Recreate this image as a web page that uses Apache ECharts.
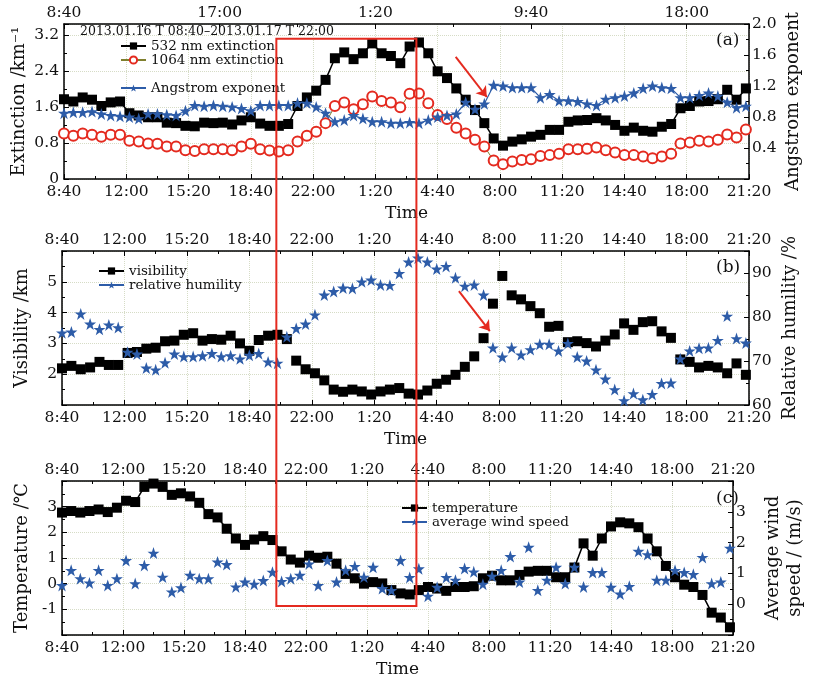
<!DOCTYPE html>
<html>
<head>
<meta charset="utf-8">
<script src="https://cdn.jsdelivr.net/npm/echarts@6.0.0/dist/echarts.min.js"></script>
<style>
html, body { margin: 0; padding: 0; background: #fff; }
#main { width: 814px; height: 681px; }
</style>
</head>
<body>
<div id="main"></div>
<script>
// minutes after 2013.01.16 08:40, one reading every half hour
var times = [0, 30, 60, 90, 120, 150, 180, 210, 240, 270, 300, 330, 360, 390, 420, 450, 480, 510, 540, 570,
    600, 630, 660, 690, 720, 750, 780, 810, 840, 870, 900, 930, 960, 990, 1020, 1050, 1080, 1110, 1140, 1170,
    1200, 1230, 1260, 1290, 1320, 1350, 1380, 1410, 1440, 1470, 1500, 1530, 1560, 1590, 1620, 1650, 1680, 1710, 1740, 1770,
    1800, 1830, 1860, 1890, 1920, 1950, 1980, 2010, 2040, 2070, 2100, 2130, 2160, 2190];

// (a) extinction km^-1 and Angstrom exponent
var ext532 = [1.77, 1.72, 1.81, 1.76, 1.62, 1.70, 1.72, 1.46, 1.41, 1.37, 1.37, 1.25, 1.24, 1.18, 1.17, 1.25, 1.24, 1.25, 1.21, 1.30,
    1.37, 1.23, 1.18, 1.18, 1.22, 1.62, 1.81, 1.96, 2.20, 2.68, 2.81, 2.66, 2.79, 3.01, 2.79, 2.73, 2.57, 2.94, 3.03, 2.79,
    2.39, 2.24, 2.01, 1.76, 1.53, 1.24, 0.90, 0.74, 0.83, 0.88, 0.94, 0.98, 1.09, 1.09, 1.27, 1.30, 1.31, 1.35, 1.30, 1.20,
    1.07, 1.14, 1.07, 1.05, 1.16, 1.22, 1.57, 1.62, 1.72, 1.73, 1.77, 1.98, 1.76, 2.01];
var ext1064 = [1.01, 0.96, 1.01, 0.98, 0.94, 0.98, 0.98, 0.85, 0.83, 0.79, 0.78, 0.72, 0.72, 0.64, 0.62, 0.66, 0.66, 0.66, 0.64, 0.72,
    0.78, 0.66, 0.63, 0.61, 0.64, 0.83, 0.96, 1.05, 1.24, 1.62, 1.70, 1.55, 1.66, 1.83, 1.73, 1.70, 1.59, 1.89, 1.90, 1.68,
    1.42, 1.33, 1.14, 1.01, 0.87, 0.72, 0.41, 0.33, 0.39, 0.42, 0.44, 0.51, 0.53, 0.56, 0.66, 0.66, 0.67, 0.70, 0.64, 0.59,
    0.53, 0.53, 0.50, 0.46, 0.50, 0.56, 0.79, 0.81, 0.85, 0.83, 0.87, 0.99, 0.92, 1.10];
var angstrom = [0.85, 0.86, 0.86, 0.87, 0.84, 0.82, 0.81, 0.80, 0.78, 0.84, 0.84, 0.83, 0.82, 0.88, 0.95, 0.94, 0.95, 0.94, 0.93, 0.91,
    0.88, 0.95, 0.95, 0.95, 0.95, 0.98, 0.98, 0.93, 0.85, 0.74, 0.76, 0.82, 0.78, 0.74, 0.74, 0.72, 0.72, 0.73, 0.72, 0.76,
    0.80, 0.82, 0.84, 0.99, 0.90, 0.97, 1.21, 1.20, 1.18, 1.18, 1.18, 1.05, 1.09, 1.01, 1.01, 1.00, 0.97, 0.95, 1.03, 1.05,
    1.07, 1.11, 1.17, 1.20, 1.18, 1.17, 1.05, 1.05, 1.08, 1.11, 1.07, 0.99, 0.92, 0.94];

// (b) visibility km and relative humidity %
var visibility = [2.19, 2.27, 2.16, 2.22, 2.40, 2.30, 2.30, 2.69, 2.72, 2.83, 2.86, 3.07, 3.09, 3.28, 3.33, 3.09, 3.14, 3.12, 3.25, 3.00,
    2.76, 3.11, 3.25, 3.28, 3.14, 2.44, 2.16, 2.03, 1.80, 1.50, 1.43, 1.50, 1.44, 1.34, 1.44, 1.50, 1.55, 1.37, 1.34, 1.47,
    1.69, 1.82, 1.98, 2.24, 2.58, 3.17, 4.29, 5.19, 4.56, 4.43, 4.21, 3.98, 3.54, 3.57, 3.04, 3.07, 3.01, 2.90, 3.09, 3.29,
    3.65, 3.44, 3.69, 3.72, 3.39, 3.18, 2.48, 2.40, 2.22, 2.27, 2.22, 2.03, 2.35, 1.98];
var humidity = [76.4, 76.6, 80.7, 78.4, 77.2, 78.2, 77.6, 72.0, 71.6, 68.4, 68.0, 69.6, 71.6, 71.0, 71.0, 71.2, 71.7, 71.0, 71.2, 70.5,
    71.3, 71.7, 69.8, 69.5, 75.5, 77.4, 78.4, 80.5, 85.0, 85.8, 86.6, 86.5, 88.0, 88.4, 87.3, 87.2, 89.9, 92.5, 93.4, 92.5,
    90.9, 91.5, 88.9, 87.0, 87.3, 85.0, 73.0, 70.9, 73.0, 71.4, 72.6, 73.8, 73.8, 72.3, 74.0, 70.9, 70.0, 68.0, 65.9, 63.5,
    61.0, 62.6, 61.2, 62.4, 64.9, 65.0, 70.5, 72.3, 72.9, 73.0, 74.7, 80.2, 75.1, 74.1];

// (c) temperature and average wind speed
var temperature = [2.77, 2.83, 2.77, 2.83, 2.89, 2.79, 2.96, 3.23, 3.18, 3.77, 3.90, 3.77, 3.46, 3.52, 3.40, 3.15, 2.71, 2.58, 2.14, 1.76,
    1.51, 1.72, 1.85, 1.70, 1.26, 0.94, 0.82, 1.09, 1.01, 1.05, 0.78, 0.38, 0.21, 0.00, 0.06, 0.01, -0.25, -0.38, -0.42, -0.25,
    -0.13, -0.19, -0.28, -0.13, -0.13, -0.10, 0.21, 0.31, 0.13, 0.13, 0.34, 0.47, 0.50, 0.50, 0.25, 0.25, 0.63, 1.57, 1.09, 1.76,
    2.23, 2.39, 2.35, 2.20, 1.76, 1.26, 0.69, 0.25, -0.04, -0.13, -0.44, -1.13, -1.32, -1.70];
var windSpeed = [0.61, 1.10, 0.83, 0.69, 1.10, 0.61, 0.83, 1.42, 0.67, 1.26, 1.66, 0.88, 0.40, 0.54, 0.94, 0.83, 0.83, 1.37, 1.29, 0.56,
    0.72, 0.65, 0.77, 1.04, 0.74, 0.83, 0.94, 1.31, 0.61, 1.42, 0.72, 1.10, 1.23, 0.88, 1.20, 0.51, 0.45, 1.42, 0.87, 1.15,
    0.26, 0.55, 0.87, 0.78, 1.16, 1.05, 0.65, 0.91, 1.10, 1.55, 0.72, 1.85, 0.45, 0.78, 1.20, 0.67, 1.20, 0.56, 1.03, 1.03,
    0.55, 0.33, 0.58, 1.72, 1.61, 0.78, 0.78, 1.10, 1.03, 0.97, 1.52, 0.67, 0.72, 1.82];

var FONT = 'DejaVu Serif';
var INK = '#111';
var BLUE = '#2d5ca8';
var RED = '#e42a1f';
var STAR = 'path://M50,2 L61.8,36.3 L97.6,36.3 L68.7,57.5 L79.6,91.8 L50,70.6 L20.4,91.8 L31.3,57.5 L2.4,36.3 L38.2,36.3 Z';

// axis value (minutes since 8:40) -> clock text
function clock(m) {
    var t = 8 * 60 + 40 + m;
    var h = Math.floor(t / 60) % 24;
    var mm = t % 60;
    return h + ':' + (mm < 10 ? '0' : '') + mm;
}

function oneDecimal(v) {
    return v === 0 ? '0' : v.toFixed(1);
}

function pairs(values) {
    return times.map(function (t, i) { return [t, values[i]]; });
}

var axisLine = { onZero: false, lineStyle: { color: '#000', width: 1.5 } };
var gridDots = { show: true, lineStyle: { color: '#d6dcc6', type: 'dotted', width: 1 } };

function xAxisFor(grid, pos, step, hideMax) {
    var ax = {
        type: 'value', gridIndex: grid, position: pos,
        min: 0, max: 2200, interval: step,
        axisLine: axisLine,
        axisTick: { inside: true, length: 5, lineStyle: { color: '#000' } },
        minorTick: { show: true, splitNumber: 2, length: 3, lineStyle: { color: '#000' } },
        axisLabel: { formatter: clock, margin: pos === 'top' ? 3 : 5, fontFamily: FONT, fontSize: 15.5, color: INK, showMaxLabel: !hideMax },
        splitLine: pos === 'bottom' ? gridDots : { show: false }
    };
    if (pos === 'bottom') {
        ax.name = 'Time';
        ax.nameLocation = 'middle';
        ax.nameGap = 26;
        ax.nameMoveOverlap = false;
        ax.nameTextStyle = { fontFamily: FONT, fontSize: 17, color: INK };
    }
    return ax;
}

function yAxisFor(grid, pos, min, max, step, name, gap, showMin, showMax, fmt) {
    return {
        type: 'value', gridIndex: grid, position: pos,
        min: min, max: max, interval: step,
        name: name, nameLocation: 'middle', nameRotate: 90, nameGap: gap, nameMoveOverlap: false,
        nameTextStyle: { fontFamily: FONT, fontSize: 18, color: INK, lineHeight: 22 },
        axisLine: axisLine,
        axisTick: { inside: true, length: 5, lineStyle: { color: '#000' } },
        minorTick: { show: true, splitNumber: 2, length: 3, lineStyle: { color: '#000' } },
        axisLabel: { margin: pos === 'left' ? 5 : 3, fontFamily: FONT, fontSize: 15.5, color: INK,
            showMinLabel: showMin, showMaxLabel: showMax, formatter: fmt },
        splitLine: pos === 'left' ? gridDots : { show: false }
    };
}

var hiddenLine = { opacity: 0, width: 1.5 };
var legendText = { fontFamily: FONT, fontSize: 13.5, color: INK };

function legendAt(names, left, top) {
    return {
        data: names, orient: 'vertical', left: left, top: top, padding: 0,
        itemGap: 0, itemWidth: 25, itemHeight: 9,
        textStyle: legendText, lineStyle: { opacity: 1 }
    };
}

var chart = echarts.init(document.getElementById('main'));

chart.setOption({
    animation: false,
    backgroundColor: '#fff',
    title: [
        { text: '2013.01.16 T 08:40\u20132013.01.17 T 22:00', left: 80, top: 25, padding: 0,
            textStyle: { fontFamily: FONT, fontSize: 12.5, fontWeight: 'normal', color: INK } },
        { text: '(a)', left: 716, top: 32, padding: 0, textStyle: { fontFamily: FONT, fontSize: 17, fontWeight: 'normal', color: INK } },
        { text: '(b)', left: 716, top: 259, padding: 0, textStyle: { fontFamily: FONT, fontSize: 17, fontWeight: 'normal', color: INK } },
        { text: '(c)', left: 716, top: 490, padding: 0, textStyle: { fontFamily: FONT, fontSize: 17, fontWeight: 'normal', color: INK } }
    ],
    legend: [
        legendAt(['532 nm extinction', '1064 nm extinction'], 120, 39),
        legendAt(['Angstrom exponent'], 120, 81),
        legendAt(['visibility', 'relative humility'], 98, 264),
        legendAt(['temperature', 'average wind speed'], 401, 501)
    ],
    grid: [
        { left: 62, right: 65, top: 24, height: 155 },
        { left: 62, right: 65, top: 251, height: 154 },
        { left: 62, right: 65, top: 481, height: 154 }
    ],
    xAxis: [
        xAxisFor(0, 'bottom', 200, false),
        xAxisFor(0, 'top', 500, true),
        xAxisFor(1, 'bottom', 200, false),
        xAxisFor(1, 'top', 200, false),
        xAxisFor(2, 'bottom', 200, false),
        xAxisFor(2, 'top', 200, false)
    ],
    yAxis: [
        yAxisFor(0, 'left', 0, 3.44, 0.8, 'Extinction /km\u207b\u00b9', 34, true, false, oneDecimal),
        yAxisFor(0, 'right', 0, 2.0, 0.4, 'Angstrom exponent', 33, false, true, oneDecimal),
        yAxisFor(1, 'left', 1, 6, 1, 'Visibility /km', 29, false, false),
        yAxisFor(1, 'right', 60, 95, 10, 'Relative humility /%', 30, true, false),
        yAxisFor(2, 'left', -2, 4, 1, 'Temperature /\u2103', 29, false, false),
        yAxisFor(2, 'right', -1, 4, 1, 'Average wind\nspeed / (m/s)', 29, false, false)
    ],
    series: [
        {
            name: '532 nm extinction', type: 'line', xAxisIndex: 0, yAxisIndex: 0,
            data: pairs(ext532), symbol: 'rect', symbolSize: 10,
            itemStyle: { color: '#000' }, lineStyle: { color: '#000', width: 1.5 },
            markLine: {
                silent: true, symbol: ['none', 'arrow'], symbolSize: 10,
                lineStyle: { color: RED, width: 2, type: 'solid' }, label: { show: false },
                data: [[{ coord: [1258, 2.71] }, { coord: [1358, 1.82] }]]
            }
        },
        {
            name: '1064 nm extinction', type: 'line', xAxisIndex: 0, yAxisIndex: 0,
            data: pairs(ext1064), symbol: 'emptyCircle', symbolSize: 10,
            itemStyle: { color: RED, borderWidth: 1 }, lineStyle: { color: '#7f7f2e', width: 1 }
        },
        {
            name: 'Angstrom exponent', type: 'line', xAxisIndex: 0, yAxisIndex: 1,
            data: pairs(angstrom), symbol: STAR, symbolSize: 12,
            itemStyle: { color: BLUE }, lineStyle: { color: BLUE, width: 1.2 }
        },
        {
            name: 'visibility', type: 'line', xAxisIndex: 2, yAxisIndex: 2,
            data: pairs(visibility), symbol: 'rect', symbolSize: 10,
            itemStyle: { color: '#000' }, lineStyle: hiddenLine,
            markLine: {
                silent: true, symbol: ['none', 'arrow'], symbolSize: 10,
                lineStyle: { color: RED, width: 2, type: 'solid' }, label: { show: false },
                data: [[{ coord: [1271, 4.70] }, { coord: [1370, 3.40] }]]
            }
        },
        {
            name: 'relative humility', type: 'line', xAxisIndex: 2, yAxisIndex: 3,
            data: pairs(humidity), symbol: STAR, symbolSize: 12,
            itemStyle: { color: BLUE }, lineStyle: hiddenLine
        },
        {
            name: 'temperature', type: 'line', xAxisIndex: 4, yAxisIndex: 4,
            data: pairs(temperature), symbol: 'rect', symbolSize: 10,
            itemStyle: { color: '#000' }, lineStyle: { color: '#000', width: 1.5 }
        },
        {
            name: 'average wind speed', type: 'line', xAxisIndex: 4, yAxisIndex: 5,
            data: pairs(windSpeed), symbol: STAR, symbolSize: 12,
            itemStyle: { color: BLUE }, lineStyle: hiddenLine
        }
    ]
});

// red box around the night-time haze episode, spanning all three panels
var boxTop = chart.convertToPixel({ seriesIndex: 0 }, [682, 3.11]);
var boxBottom = chart.convertToPixel({ seriesIndex: 5 }, [1162, -0.87]);
chart.setOption({
    graphic: [{
        type: 'rect', z: 100,
        shape: { x: boxTop[0], y: boxTop[1], width: boxBottom[0] - boxTop[0], height: boxBottom[1] - boxTop[1] },
        style: { fill: 'none', stroke: RED, lineWidth: 2 }
    }]
});
</script>
</body>
</html>
